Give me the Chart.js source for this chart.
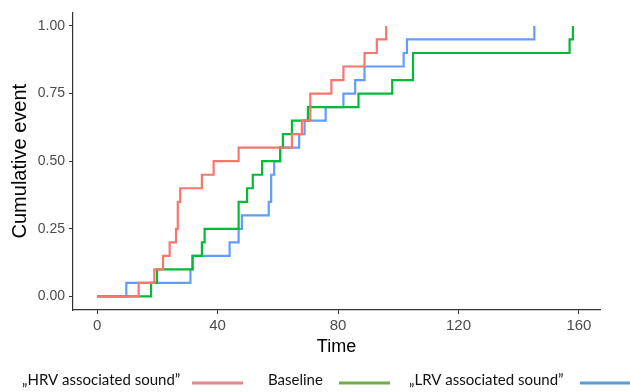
<!DOCTYPE html>
<html>
<head>
<meta charset="utf-8">
<script src="https://cdn.jsdelivr.net/npm/chart.js@4.4.1/dist/chart.umd.min.js"></script>
<style>
  html, body { margin: 0; padding: 0; background: #fff; }
  #wrap { width: 630px; height: 392px; }
</style>
</head>
<body>
<div id="wrap"><canvas id="kmChart" width="630" height="392"></canvas></div>
<script>
// step times and cumulative event values
const hrvTimes = [0, 13.8, 19, 21.9, 24.1, 26.2, 26.8, 27.6, 34.8, 38.7, 47, 64.7, 68, 70.8, 77.8, 81.8, 88.8, 92.9, 96];
const hrvValues = [0, 0.05, 0.10, 0.15, 0.20, 0.25, 0.35, 0.40, 0.45, 0.50, 0.55, 0.60, 0.65, 0.75, 0.80, 0.85, 0.90, 0.95, 1.00];

const baseTimes = [0, 17.9, 19.9, 31.7, 34.8, 35.7, 47, 49.8, 51.7, 54.8, 60.8, 61.7, 64.7, 70, 86.8, 98, 104.9, 156.9, 158];
const baseValues = [0, 0.05, 0.10, 0.15, 0.20, 0.25, 0.35, 0.40, 0.45, 0.50, 0.55, 0.60, 0.65, 0.70, 0.75, 0.80, 0.90, 0.95, 1.00];

const lrvTimes = [0, 9.7, 31, 31.7, 44, 47, 48.1, 57, 57.8, 58.8, 60.8, 67.1, 68.9, 75.9, 81.8, 85.7, 88.8, 101.8, 102.9, 145.2];
const lrvValues = [0, 0.05, 0.10, 0.15, 0.20, 0.25, 0.30, 0.35, 0.45, 0.50, 0.55, 0.60, 0.65, 0.70, 0.75, 0.80, 0.85, 0.90, 0.95, 1.00];

const seriesNames = ['\u201EHRV associated sound\u201D', 'Baseline', '\u201ELRV associated sound\u201D'];
const xTicks = [0, 40, 80, 120, 160];
const yTicks = [0, 0.25, 0.5, 0.75, 1];

const toPoints = (xs, ys) => xs.map((x, i) => ({ x: x, y: ys[i] }));

const sans = "'Liberation Sans', Arial, sans-serif";

// legend in the ggplot style: label first, then the line key
const bottomLegend = {
    id: 'bottomLegend',
    afterDraw(chart) {
        const ctx = chart.ctx;
        const textX = [22, 268, 409];
        const lineX = [192, 339, 580];
        const keyColors = ['#E8868A', '#70AD47', '#5B9BD5'];
        const y = 381;
        ctx.save();
        ctx.font = "15px Lato";
        ctx.fillStyle = '#111';
        ctx.textBaseline = 'middle';
        chart.data.datasets.forEach((ds, i) => {
            ctx.fillText(ds.label, textX[i], y - 1);
            ctx.strokeStyle = keyColors[i];
            ctx.lineWidth = 3;
            ctx.beginPath();
            ctx.moveTo(lineX[i], y + 2);
            ctx.lineTo(lineX[i] + 51, y + 2);
            ctx.stroke();
        });
        ctx.restore();
    }
};

const commonLine = { fill: false, stepped: true, borderWidth: 2.2, pointRadius: 0, tension: 0 };

new Chart(document.getElementById('kmChart').getContext('2d'), {
    type: 'line',
    data: {
        datasets: [
            { ...commonLine, label: seriesNames[0], data: toPoints(hrvTimes, hrvValues), borderColor: '#F8766D' },
            { ...commonLine, label: seriesNames[1], data: toPoints(baseTimes, baseValues), borderColor: '#00BA38' },
            { ...commonLine, label: seriesNames[2], data: toPoints(lrvTimes, lrvValues), borderColor: '#619CFF' },
        ],
    },
    options: {
        responsive: false,
        animation: false,
        layout: { padding: { top: 10, right: 30, bottom: 34, left: 0 } },
        plugins: {
            legend: { display: false },
            tooltip: { enabled: false },
        },
        scales: {
            x: {
                type: 'linear',
                min: -8,
                max: 167,
                afterBuildTicks: (axis) => { axis.ticks = xTicks.map(v => ({ value: v })); },
                afterFit: (axis) => { axis.height = 48; },
                border: { display: true, color: '#333', width: 1.2 },
                grid: { display: true, drawOnChartArea: false, drawTicks: true, tickLength: 4, color: '#333' },
                ticks: { color: '#4D4D4D', font: { family: sans, size: 15 }, padding: 3, maxRotation: 0 },
                title: { display: true, text: 'Time', color: '#000', font: { family: sans, size: 18 }, padding: { top: 0, bottom: 0 } },
            },
            y: {
                min: -0.05,
                max: 1.05,
                afterBuildTicks: (axis) => { axis.ticks = yTicks.map(v => ({ value: v })); },
                afterFit: (axis) => { axis.width = 73; },
                border: { display: true, color: '#333', width: 1.2 },
                grid: { display: true, drawOnChartArea: false, drawTicks: true, tickLength: 4, color: '#333' },
                ticks: { color: '#4D4D4D', font: { family: sans, size: 14 }, padding: 4, callback: (v) => v.toFixed(2) },
                title: { display: true, text: 'Cumulative event', color: '#000', font: { family: sans, size: 20 }, padding: { top: 8, bottom: 0 } },
            },
        },
    },
    plugins: [bottomLegend],
});
</script>
</body>
</html>
